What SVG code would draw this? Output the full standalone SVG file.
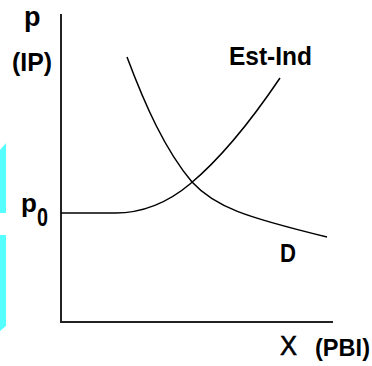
<svg xmlns="http://www.w3.org/2000/svg" width="372" height="366" viewBox="0 0 372 366">
<style>
.axis{stroke:#222;stroke-width:2;fill:none}
.curve{stroke:#000;stroke-width:1.5;fill:none}
.b{font-family:"Liberation Sans",Arial,sans-serif;font-weight:bold;fill:#000}
.r{font-family:"Liberation Sans",Arial,sans-serif;fill:#000}
.cy{fill:#55ffff}
</style>
<rect width="372" height="366" fill="#fff"/>
<g id="decor">
<polygon class="cy" points="0,150 6,143 6,213 0,213"/>
<polygon class="cy" points="0,235 6,235 6,326 0,331"/>
</g>
<g id="axes">
<polyline class="axis" points="61,14 61,322 333,322"/>
</g>
<g id="connectors">
<path id="supply" class="curve" d="M61,213 L115,213 C140,213 165,205 190,184 C225,155 255,115 280,78"/>
<path id="demand" class="curve" d="M127,57 C145,105 165,150 192,182 C215,207 245,217 327,237"/>
</g>
<g id="label-p"><text class="b" x="24" y="26" font-size="27">p</text></g>
<g id="label-IP"><text class="b" x="12" y="71" font-size="25" textLength="40" lengthAdjust="spacingAndGlyphs">(IP)</text></g>
<g id="label-p0"><text class="b" x="21" y="212" font-size="26">p<tspan dy="13.5" textLength="11" lengthAdjust="spacingAndGlyphs">0</tspan></text></g>
<g id="label-estind"><text class="b" x="229" y="65" font-size="26" textLength="83" lengthAdjust="spacingAndGlyphs">Est-Ind</text></g>
<g id="label-D"><text class="b" x="280" y="262" font-size="26" textLength="16" lengthAdjust="spacingAndGlyphs">D</text></g>
<g id="label-X"><text class="r" x="280" y="355" font-size="28" textLength="17" lengthAdjust="spacingAndGlyphs" stroke="#000" stroke-width="0.6">X</text></g>
<g id="label-PBI"><text class="b" x="315" y="356" font-size="23" textLength="55" lengthAdjust="spacingAndGlyphs">(PBI)</text></g>
</svg>
